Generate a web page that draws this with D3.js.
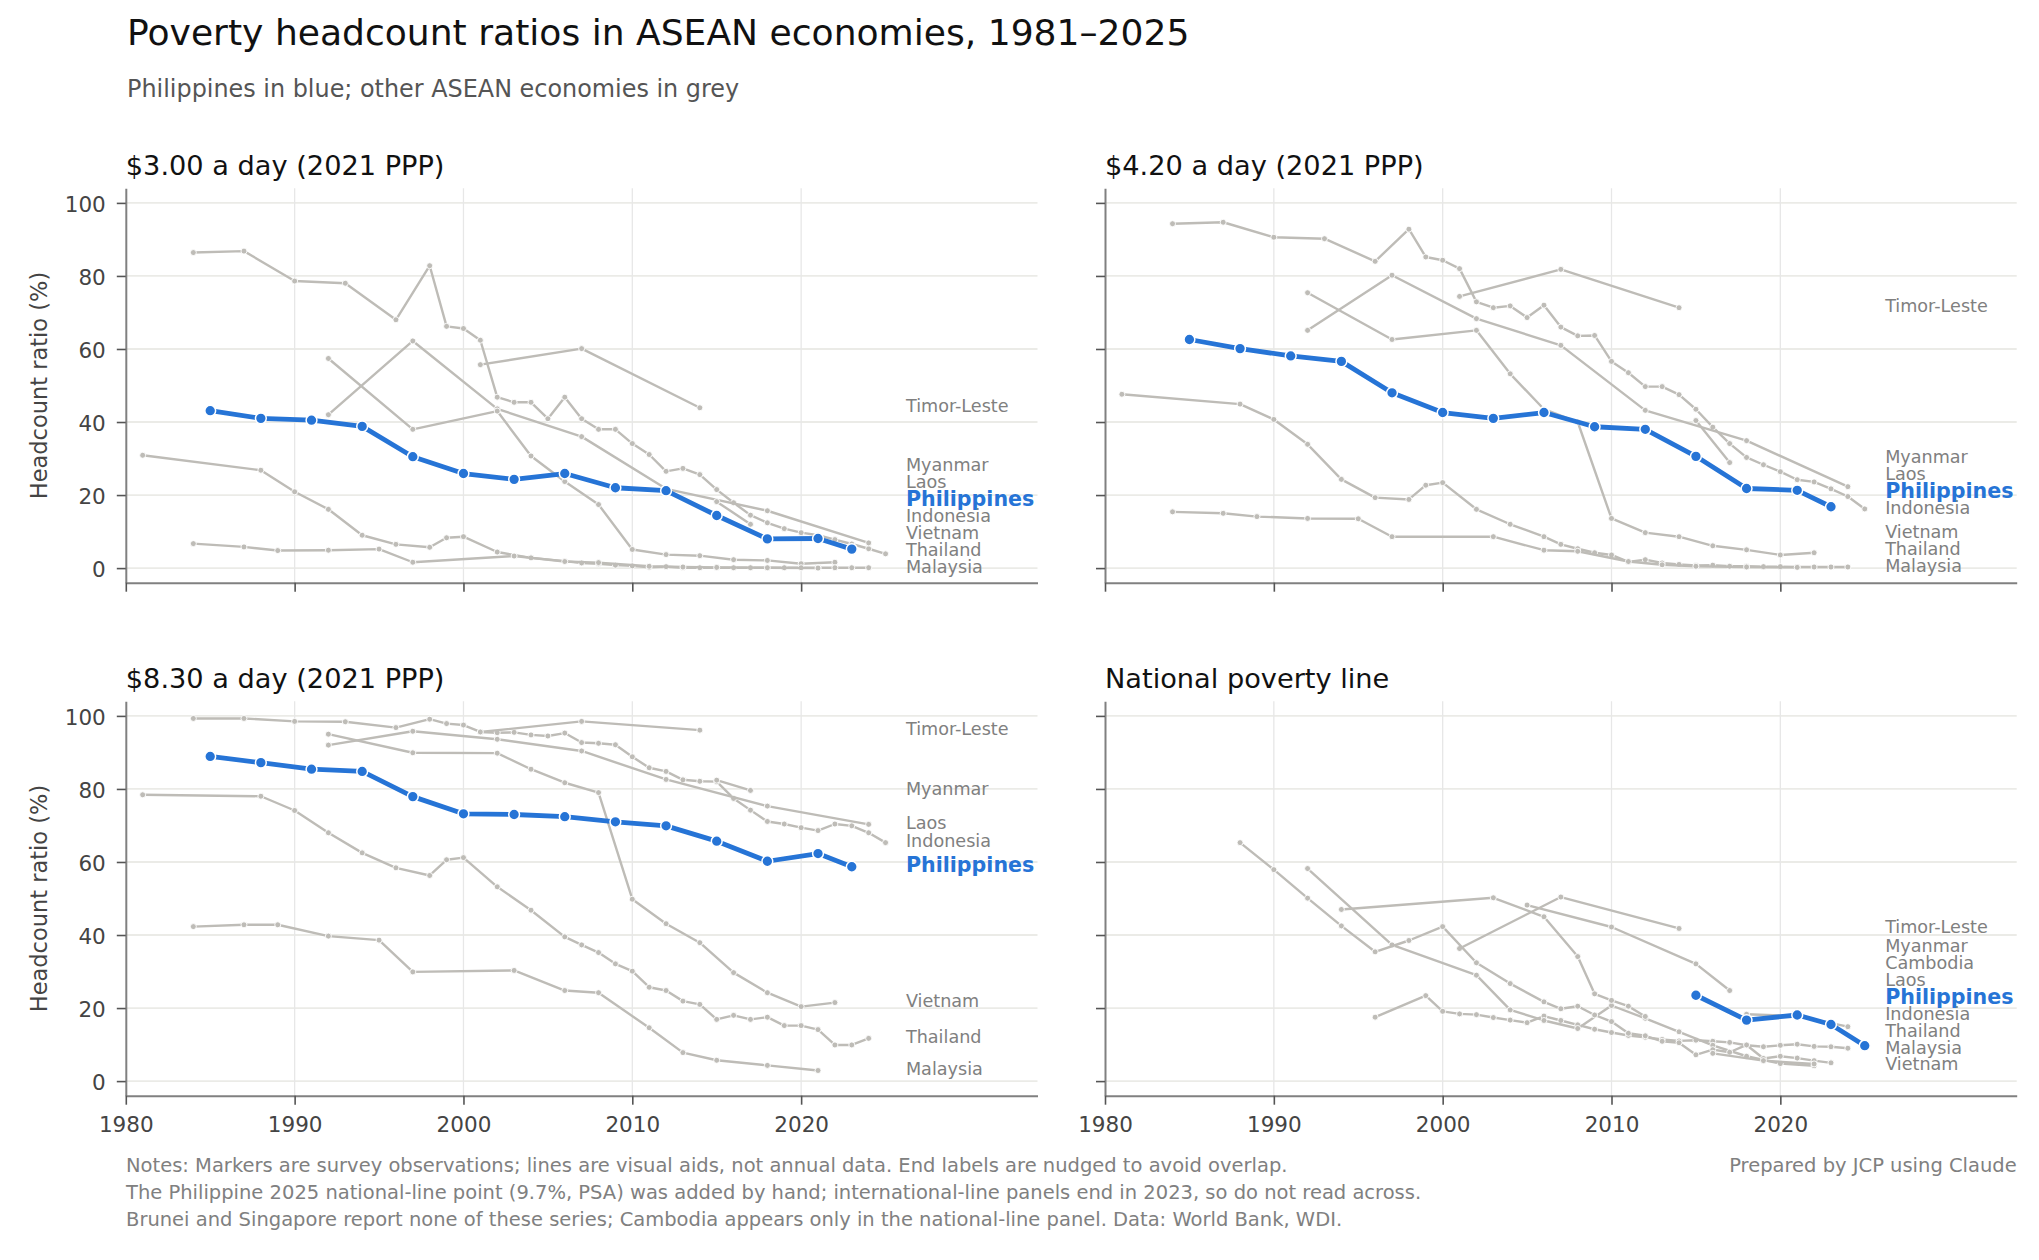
<!DOCTYPE html>
<html>
<head>
<meta charset="utf-8">
<script src="https://cdn.jsdelivr.net/npm/d3@7"></script>
<style>
  body { margin: 0; background: #ffffff; }
  svg { display: block; }
  text { font-family: "DejaVu Sans", "Noto Sans", sans-serif; }
</style>
</head>
<body>
<svg id="chart" width="2039" height="1260"></svg>
<script>
// ---------------- DATA ----------------
const xTickValues = [1980, 1990, 2000, 2010, 2020];
const yTickValues = [0, 20, 40, 60, 80, 100];
const panelTitles = ["$3.00 a day (2021 PPP)", "$4.20 a day (2021 PPP)", "$8.30 a day (2021 PPP)", "National poverty line"];

// $3.00 a day
const ph300  = [[1985,43.1],[1988,41.0],[1991,40.5],[1994,38.8],[1997,30.5],[2000,25.9],[2003,24.3],[2006,25.9],[2009,22.0],[2012,21.2],[2015,14.4],[2018,8.0],[2021,8.1],[2023,5.2]];
const idn300 = [[1984,86.4],[1987,86.8],[1990,78.6],[1993,78.0],[1996,68.0],[1998,82.8],[1999,66.2],[2000,65.6],[2001,62.4],[2002,46.8],[2003,45.4],[2004,45.4],[2005,40.9],[2006,46.8],[2007,40.9],[2008,38.0],[2009,38.0],[2010,34.1],[2011,31.1],[2012,26.5],[2013,27.3],[2014,25.6],[2015,21.5],[2016,17.9],[2017,14.5],[2018,12.4],[2019,10.8],[2020,9.7],[2021,9.0],[2022,7.8],[2023,6.6],[2024,5.3],[2025,3.9]];
const lao300 = [[1992,42.0],[1997,62.2],[2002,43.6],[2007,36.0],[2012,21.7],[2018,15.7],[2024,6.9]];
const vnm300 = [[1992,57.4],[1997,38.0],[2002,43.0],[2004,30.7],[2006,23.7],[2008,17.4],[2010,5.1],[2012,3.7],[2014,3.4],[2016,2.3],[2018,2.1],[2020,1.2],[2022,1.6]];
const tls300 = [[2001,55.7],[2007,60.1],[2014,43.9]];
const mmr300 = [[2015,18.2],[2017,12.0]];
const tha300 = [[1981,30.9],[1988,26.8],[1990,20.9],[1992,16.1],[1994,9.0],[1996,6.5],[1998,5.7],[1999,8.3],[2000,8.6],[2002,4.4],[2004,2.8],[2006,1.9],[2007,1.4],[2008,1.2],[2009,0.8],[2010,0.6],[2011,0.2],[2012,0.4],[2013,0.1],[2014,0.1],[2015,0.1],[2016,0.1],[2017,0.1],[2018,0.1],[2019,0.1],[2020,0.1],[2021,0.1],[2022,0.1],[2023,0.1],[2024,0.1]];
const mys300 = [[1984,6.7],[1987,5.8],[1989,4.8],[1992,4.9],[1995,5.2],[1997,1.6],[2003,3.3],[2006,1.8],[2008,1.5],[2011,0.5],[2013,0.3],[2015,0.2],[2018,0.1],[2021,0.0]];

// $4.20 a day
const ph420  = [[1985,62.6],[1988,60.1],[1991,58.1],[1994,56.6],[1997,48.0],[2000,42.6],[2003,41.0],[2006,42.6],[2009,38.7],[2012,38.0],[2015,30.6],[2018,21.8],[2021,21.3],[2023,16.8]];
const idn420 = [[1984,94.3],[1987,94.7],[1990,90.6],[1993,90.2],[1996,84.0],[1998,92.8],[1999,85.2],[2000,84.3],[2001,82.0],[2002,72.9],[2003,71.3],[2004,71.8],[2005,68.6],[2006,72.0],[2007,66.0],[2008,63.6],[2009,63.7],[2010,56.6],[2011,53.5],[2012,49.7],[2013,49.7],[2014,47.5],[2015,43.5],[2016,38.6],[2017,34.1],[2018,30.3],[2019,28.3],[2020,26.4],[2021,24.2],[2022,23.6],[2023,21.7],[2024,19.6],[2025,16.2]];
const lao420 = [[1992,65.1],[1997,80.2],[2002,68.3],[2007,61.0],[2012,43.2],[2018,34.9],[2024,22.3]];
const vnm420 = [[1992,75.4],[1997,62.6],[2002,65.1],[2004,53.2],[2006,43.5],[2008,40.0],[2010,13.6],[2012,9.7],[2014,8.6],[2016,6.1],[2018,5.0],[2020,3.6],[2022,4.2]];
const tls420 = [[2001,74.4],[2007,81.8],[2014,71.3]];
const mmr420 = [[2015,40.4],[2017,28.9]];
const tha420 = [[1981,47.6],[1988,44.9],[1990,40.7],[1992,33.9],[1994,24.3],[1996,19.3],[1998,18.8],[1999,22.7],[2000,23.4],[2002,16.1],[2004,12.0],[2006,8.6],[2007,6.5],[2008,5.3],[2009,4.2],[2010,3.6],[2011,1.7],[2012,2.3],[2013,1.4],[2014,1.0],[2015,0.7],[2016,0.8],[2017,0.5],[2018,0.5],[2019,0.4],[2020,0.4],[2021,0.3],[2022,0.3],[2023,0.3],[2024,0.3]];
const mys420 = [[1984,15.4],[1987,15.0],[1989,14.1],[1992,13.6],[1995,13.5],[1997,8.6],[2003,8.6],[2006,4.9],[2008,4.6],[2011,1.8],[2013,0.9],[2015,0.5],[2018,0.3],[2021,0.2]];

// $8.30 a day
const ph830  = [[1985,88.9],[1988,87.2],[1991,85.4],[1994,84.8],[1997,77.9],[2000,73.2],[2003,73.0],[2006,72.4],[2009,71.0],[2012,69.9],[2015,65.7],[2018,60.2],[2021,62.3],[2023,58.7]];
const idn830 = [[1984,99.3],[1987,99.3],[1990,98.5],[1993,98.4],[1996,96.8],[1998,99.1],[1999,97.9],[2000,97.5],[2001,95.6],[2002,95.4],[2003,95.5],[2004,94.8],[2005,94.5],[2006,95.3],[2007,92.7],[2008,92.5],[2009,92.1],[2010,88.8],[2011,85.8],[2012,84.8],[2013,82.5],[2014,82.1],[2015,82.0],[2016,77.4],[2017,74.2],[2018,71.1],[2019,70.4],[2020,69.4],[2021,68.6],[2022,70.4],[2023,69.9],[2024,68.0],[2025,65.3]];
const lao830 = [[1992,92.0],[1997,95.8],[2002,93.6],[2007,90.4],[2012,82.6],[2018,75.3],[2024,70.3]];
const vnm830 = [[1992,95.0],[1997,89.9],[2002,89.8],[2004,85.4],[2006,81.7],[2008,79.0],[2010,49.8],[2012,43.1],[2014,37.9],[2016,29.7],[2018,24.2],[2020,20.4],[2022,21.5]];
const tls830 = [[2001,95.6],[2007,98.5],[2014,96.1]];
const mmr830 = [[2015,82.4],[2017,79.6]];
const tha830 = [[1981,78.4],[1988,78.0],[1990,74.1],[1992,68.0],[1994,62.5],[1996,58.4],[1998,56.3],[1999,60.6],[2000,61.2],[2002,53.2],[2004,46.8],[2006,39.5],[2007,37.3],[2008,35.2],[2009,32.1],[2010,30.1],[2011,25.7],[2012,24.8],[2013,21.9],[2014,21.0],[2015,16.9],[2016,18.0],[2017,16.9],[2018,17.5],[2019,15.2],[2020,15.2],[2021,14.1],[2022,9.9],[2023,9.9],[2024,11.7]];
const mys830 = [[1984,42.3],[1987,42.8],[1989,42.8],[1992,39.7],[1995,38.6],[1997,29.9],[2003,30.3],[2006,24.8],[2008,24.2],[2011,14.6],[2013,7.8],[2015,5.7],[2018,4.3],[2021,2.9]];

// National poverty line
const phNat  = [[2015,23.5],[2018,16.7],[2021,18.1],[2023,15.5],[2025,9.7]];
const idnNat = [[1996,17.5],[1999,23.4],[2000,19.1],[2001,18.4],[2002,18.2],[2003,17.4],[2004,16.7],[2005,16.0],[2006,17.8],[2007,16.6],[2008,15.4],[2009,14.2],[2010,13.3],[2011,12.5],[2012,12.0],[2013,11.4],[2014,11.0],[2015,11.2],[2016,10.9],[2017,10.6],[2018,9.8],[2019,9.4],[2020,9.8],[2021,10.1],[2022,9.5],[2023,9.4],[2024,9.0]];
const laoNat = [[2018,18.3],[2021,17.8],[2024,14.9]];
const vnmNat = [[1992,58.2],[1997,37.3],[2002,29.0],[2004,19.5],[2006,16.6],[2008,14.4],[2010,20.7],[2012,17.2],[2014,13.5],[2016,9.8],[2018,6.8],[2020,4.8],[2022,4.2]];
const tlsNat = [[2001,36.3],[2007,50.4],[2014,41.8]];
const mmrNat = [[2005,48.2],[2010,42.2],[2015,32.1],[2017,24.8]];
const thaNat = [[1988,65.3],[1990,57.9],[1992,50.1],[1994,42.5],[1996,35.4],[1998,38.5],[2000,42.3],[2002,32.4],[2004,26.7],[2006,21.7],[2007,19.8],[2008,20.5],[2009,18.1],[2010,16.3],[2011,13.1],[2012,12.4],[2013,10.9],[2014,10.5],[2015,7.2],[2016,8.6],[2017,7.9],[2018,9.9],[2019,6.2],[2020,6.8],[2021,6.3],[2022,5.6],[2023,5.0]];
const mysNat = [[2016,7.6],[2019,5.6],[2022,4.7]];
const khmNat = [[1994,47.0],[2003,50.2],[2006,45.0],[2008,34.1],[2009,23.9],[2010,22.1],[2011,20.5],[2012,17.7]];

const titleText = "Poverty headcount ratios in ASEAN economies, 1981\u20132025";
const subtitleText = "Philippines in blue; other ASEAN economies in grey";
const yAxisLabel = "Headcount ratio (%)";
const noteLines = [
  "Notes: Markers are survey observations; lines are visual aids, not annual data. End labels are nudged to avoid overlap.",
  "The Philippine 2025 national-line point (9.7%, PSA) was added by hand; international-line panels end in 2023, so do not read across.",
  "Brunei and Singapore report none of these series; Cambodia appears only in the national-line panel. Data: World Bank, WDI."
];
const creditText = "Prepared by JCP using Claude";

// tables built from the arrays above
const panelSeries = [
  [["Indonesia", idn300], ["Laos", lao300], ["Vietnam", vnm300], ["Timor-Leste", tls300], ["Myanmar", mmr300], ["Thailand", tha300], ["Malaysia", mys300], ["Philippines", ph300]],
  [["Indonesia", idn420], ["Laos", lao420], ["Vietnam", vnm420], ["Timor-Leste", tls420], ["Myanmar", mmr420], ["Thailand", tha420], ["Malaysia", mys420], ["Philippines", ph420]],
  [["Indonesia", idn830], ["Laos", lao830], ["Vietnam", vnm830], ["Timor-Leste", tls830], ["Myanmar", mmr830], ["Thailand", tha830], ["Malaysia", mys830], ["Philippines", ph830]],
  [["Indonesia", idnNat], ["Laos", laoNat], ["Vietnam", vnmNat], ["Timor-Leste", tlsNat], ["Myanmar", mmrNat], ["Thailand", thaNat], ["Malaysia", mysNat], ["Cambodia", khmNat], ["Philippines", phNat]]
];

// ---------------- LAYOUT / STYLE ----------------
const FONT = '"DejaVu Sans", "Noto Sans", sans-serif';
const BLUE = "#2674d6";
const GREY_LINE = "#bebcb7";
const LABEL_GREY = "#808080";
const PW = 911.7, PHT = 394.4;
const origins = [[125.8, 188.3], [1105, 188.3], [125.8, 701.3], [1105, 701.3]];
const xDomain = [1980, 2034];
const yDomain = [-4, 104];
const LABEL_GAP = 4.63;   // minimum vertical separation of end labels (data units)

const svg = d3.select("#chart");

svg.append("text").attr("x", 127).attr("y", 45)
  .attr("font-size", 36.1).attr("fill", "#111").text(titleText);
svg.append("text").attr("x", 127).attr("y", 97)
  .attr("font-size", 23.9).attr("fill", "#555").text(subtitleText);

panelSeries.forEach((seriesList, i) => {
  const [x0, y0] = origins[i];
  const showYLabels = (i % 2 === 0);
  const showXLabels = (i >= 2);
  const x = d3.scaleLinear().domain(xDomain).range([x0, x0 + PW]);
  const y = d3.scaleLinear().domain(yDomain).range([y0 + PHT, y0]);
  const g = svg.append("g");

  // gridlines
  g.selectAll("line.hgrid").data(yTickValues).join("line").attr("class", "hgrid")
    .attr("x1", x0).attr("x2", x0 + PW)
    .attr("y1", d => y(d)).attr("y2", d => y(d))
    .attr("stroke", "#ebebe7").attr("stroke-width", 1.8);
  g.selectAll("line.vgrid").data(xTickValues.filter(d => d > xDomain[0])).join("line").attr("class", "vgrid")
    .attr("x1", d => x(d)).attr("x2", d => x(d))
    .attr("y1", y0).attr("y2", y0 + PHT)
    .attr("stroke", "#e7e7e7").attr("stroke-width", 1.3);

  // axes
  const yAxis = d3.axisLeft(y).tickValues(yTickValues).tickSize(9).tickPadding(11).tickSizeOuter(0);
  if (!showYLabels) yAxis.tickFormat("");
  const yg = g.append("g").attr("transform", `translate(${x0},0)`).call(yAxis)
    .attr("font-family", FONT).attr("font-size", 21.5);
  const xAxis = d3.axisBottom(x).tickValues(xTickValues).tickSize(9).tickPadding(11.7).tickSizeOuter(0)
    .tickFormat(d3.format("d"));
  if (!showXLabels) xAxis.tickFormat("");
  const xg = g.append("g").attr("transform", `translate(0,${y0 + PHT})`).call(xAxis)
    .attr("font-family", FONT).attr("font-size", 21.5);
  [yg, xg].forEach(a => {
    a.select(".domain").attr("stroke", "#808080").attr("stroke-width", 2);
    a.selectAll(".tick line").attr("stroke", "#555").attr("stroke-width", 1.6);
    a.selectAll(".tick text").attr("fill", "#444");
  });
  yg.selectAll(".tick text").attr("dy", "0.41em");

  // panel title
  g.append("text").attr("x", x0).attr("y", y0 - 13.3)
    .attr("font-size", 27.2).attr("fill", "#111").text(panelTitles[i]);

  if (showYLabels) {
    g.append("text")
      .attr("transform", `translate(47,${y0 + PHT / 2}) rotate(-90)`)
      .attr("text-anchor", "middle").attr("font-size", 22.5).attr("fill", "#444")
      .text(yAxisLabel);
  }

  const line = d3.line().x(d => x(d[0])).y(d => y(d[1]));

  // grey series
  seriesList.filter(s => s[0] !== "Philippines").forEach(([name, pts]) => {
    g.append("path").datum(pts).attr("d", line)
      .attr("fill", "none").attr("stroke", GREY_LINE).attr("stroke-width", 2.4)
      .attr("stroke-linejoin", "round").attr("stroke-linecap", "round");
    g.selectAll(null).data(pts).join("circle")
      .attr("cx", d => x(d[0])).attr("cy", d => y(d[1])).attr("r", 3.0)
      .attr("fill", GREY_LINE).attr("stroke", "#fff").attr("stroke-width", 0.9);
  });

  // Philippines
  seriesList.filter(s => s[0] === "Philippines").forEach(([name, pts]) => {
    g.append("path").datum(pts).attr("d", line)
      .attr("fill", "none").attr("stroke", BLUE).attr("stroke-width", 4.8)
      .attr("stroke-linejoin", "round").attr("stroke-linecap", "round");
    g.selectAll(null).data(pts).join("circle")
      .attr("cx", d => x(d[0])).attr("cy", d => y(d[1])).attr("r", 5.4)
      .attr("fill", BLUE).attr("stroke", "#fff").attr("stroke-width", 1.5);
  });

  // end labels, nudged upwards to avoid overlap
  const ends = seriesList.map(([name, pts]) => ({ name, v: pts[pts.length - 1][1] }))
    .sort((a, b) => a.v - b.v);
  let prev = -Infinity;
  ends.forEach(e => { e.pos = Math.max(e.v, prev + LABEL_GAP); prev = e.pos; });
  ends.forEach(e => {
    const isPH = e.name === "Philippines";
    g.append("text")
      .attr("x", x(2026) + 3.5).attr("y", y(e.pos + 0.35))
      .attr("dominant-baseline", "central")
      .attr("font-size", isPH ? 20.6 : 17.6)
      .attr("font-weight", isPH ? "bold" : "normal")
      .attr("fill", isPH ? BLUE : LABEL_GREY)
      .text(e.name);
  });
});

// footer
noteLines.forEach((t, k) => {
  svg.append("text").attr("x", 126).attr("y", 1172 + k * 27)
    .attr("font-size", 19.5).attr("fill", "#808080").text(t);
});
svg.append("text").attr("x", 2016.7).attr("y", 1172).attr("text-anchor", "end")
  .attr("font-size", 19.5).attr("fill", "#808080").text(creditText);
</script>
</body>
</html>
